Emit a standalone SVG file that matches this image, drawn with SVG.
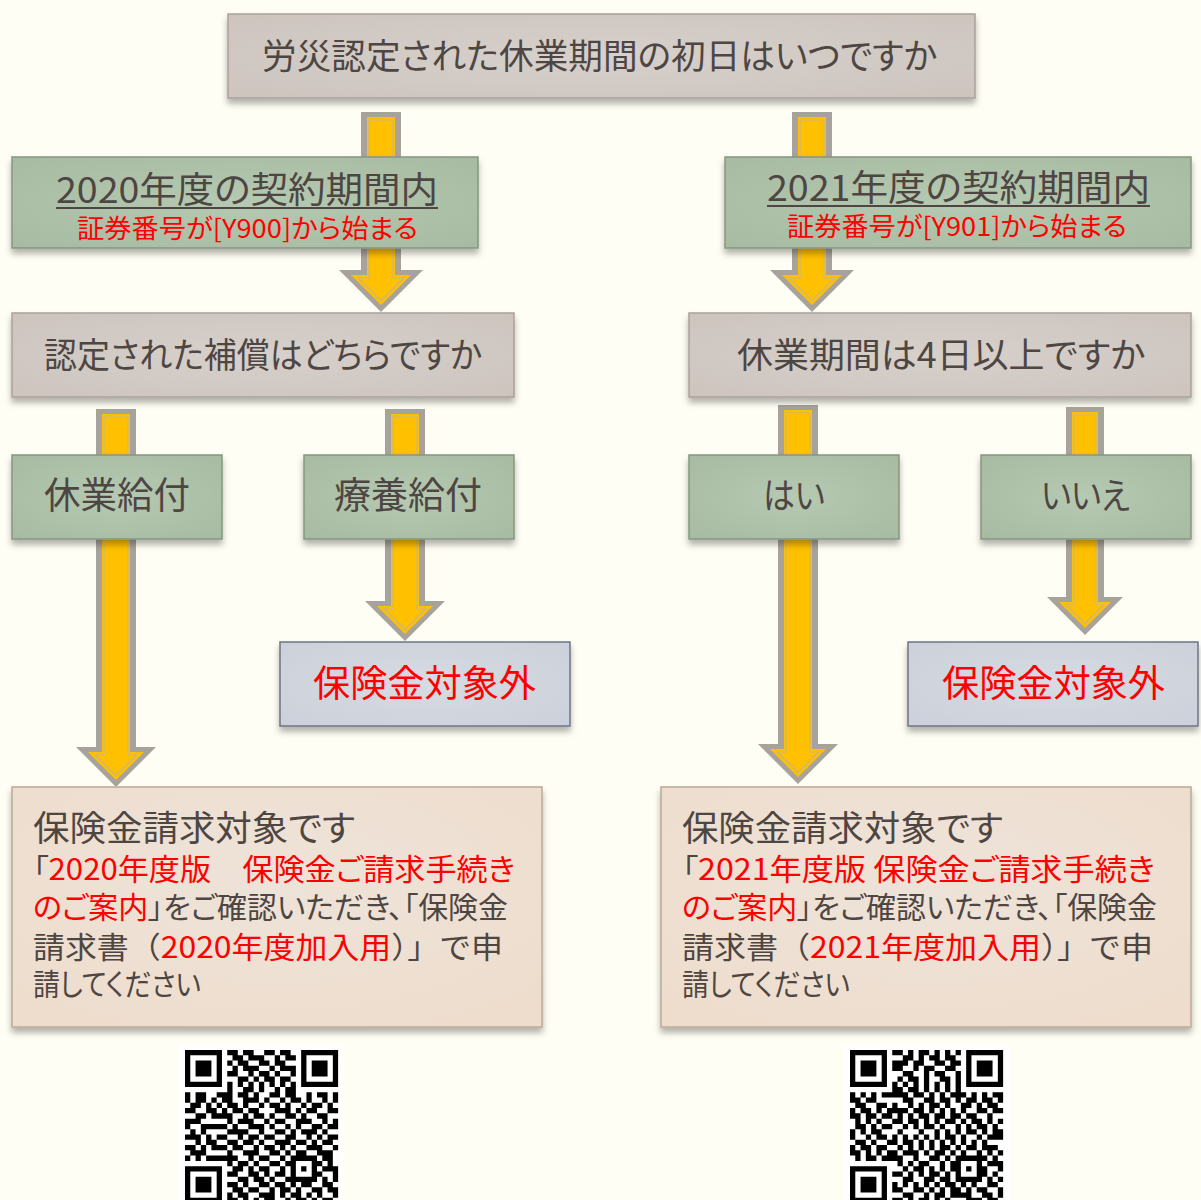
<svg xmlns="http://www.w3.org/2000/svg" xmlns:xlink="http://www.w3.org/1999/xlink" width="1201" height="1200" viewBox="0 0 1201 1200">
<defs>
<style>
.t{font-family:"Noto Sans CJK JP","Noto Sans CJK SC",sans-serif;fill:#4E4642;font-feature-settings:"palt";}
.np{font-feature-settings:normal;}
.r{fill:#FF0000;}
.gray{fill:url(#gGray);stroke:#A9A19B;stroke-width:1.5;filter:url(#sh);}
.green{fill:url(#gGreen);stroke:#859683;stroke-width:1.5;filter:url(#sh);}
.blue{fill:url(#gBlue);stroke:#6C7487;stroke-width:1.5;filter:url(#sh);}
.peach{fill:url(#gPeach);stroke:#BBAA94;stroke-width:1.5;filter:url(#sh);}
.ao{fill:#A8A29C;}
.ay{fill:#FFC000;}
.al{fill:none;stroke:#C9B68A;stroke-width:1.2;}
</style>
<filter id="sh" x="-5%" y="-10%" width="110%" height="130%">
<feDropShadow dx="0" dy="5" stdDeviation="3" flood-color="#000" flood-opacity="0.3"/>
</filter>
<radialGradient id="gGray" cx=".5" cy=".5" r=".7"><stop offset="0" stop-color="#D7D0CB"/><stop offset="1" stop-color="#CDC4BE"/></radialGradient>
<radialGradient id="gGreen" cx=".5" cy=".5" r=".7"><stop offset="0" stop-color="#B6C9B2"/><stop offset="1" stop-color="#A6BBA2"/></radialGradient>
<radialGradient id="gBlue" cx=".5" cy=".5" r=".7"><stop offset="0" stop-color="#D7DBE2"/><stop offset="1" stop-color="#CBD0DA"/></radialGradient>
<radialGradient id="gPeach" cx=".5" cy=".4" r=".7"><stop offset="0" stop-color="#EEE3D9"/><stop offset="1" stop-color="#EEDDCD"/></radialGradient>
<path id="qrp" fill="none" stroke="#000" stroke-width="1" d="M0 .5h7m1 0h2m1 0h2m2 0h2m1 0h2m2 0h7M0 1.5h1m5 0h1m2 0h2m1 0h3m2 0h1m1 0h2m1 0h1m5 0h1M0 2.5h1m1 0h3m1 0h1m1 0h1m1 0h2m2 0h2m1 0h2m3 0h1m1 0h3m1 0h1M0 3.5h1m1 0h3m1 0h1m2 0h1m1 0h3m2 0h1m1 0h3m1 0h1m1 0h3m1 0h1M0 4.5h1m1 0h3m1 0h1m1 0h2m2 0h1m1 0h2m1 0h1m2 0h1m1 0h1m1 0h3m1 0h1M0 5.5h1m5 0h1m3 0h2m1 0h1m1 0h2m1 0h2m2 0h1m5 0h1M0 6.5h7m1 0h1m1 0h1m1 0h1m1 0h1m1 0h1m1 0h1m1 0h1m1 0h7M8 7.5h1m2 0h2m1 0h1m2 0h1m1 0h2M0 8.5h1m1 0h2m2 0h3m1 0h2m1 0h1m2 0h2m1 0h2m2 0h1m1 0h2m1 0h1M0 9.5h1m1 0h2m1 0h1m1 0h2m2 0h3m1 0h1m2 0h1m1 0h2m1 0h1m2 0h1m1 0h1M1 10.5h2m1 0h1m1 0h1m1 0h2m1 0h1m2 0h1m1 0h2m1 0h1m2 0h1m1 0h2m1 0h1M0 11.5h2m2 0h2m1 0h1m1 0h2m1 0h2m3 0h3m1 0h1m1 0h2m2 0h2M2 12.5h2m1 0h4m2 0h1m1 0h2m1 0h1m2 0h2m1 0h1m2 0h2M0 13.5h3m5 0h1m1 0h3m2 0h1m1 0h2m2 0h3m2 0h1m1 0h1M0 14.5h1m2 0h5m1 0h1m2 0h3m1 0h1m2 0h1m1 0h1m2 0h2m1 0h2M1 15.5h1m1 0h1m4 0h4m2 0h1m2 0h2m1 0h1m1 0h3m1 0h1M0 16.5h3m1 0h1m1 0h2m2 0h1m1 0h2m1 0h2m2 0h2m2 0h1m1 0h1m1 0h2M2 17.5h1m1 0h2m2 0h2m1 0h2m1 0h1m2 0h3m1 0h2m1 0h1m1 0h2M0 18.5h2m1 0h1m1 0h3m1 0h2m2 0h1m1 0h2m1 0h1m1 0h1m2 0h3m2 0h1M1 19.5h3m4 0h1m2 0h3m2 0h2m1 0h1m1 0h2m2 0h3M0 20.5h1m1 0h1m1 0h6m2 0h1m1 0h2m2 0h1m1 0h5m1 0h2M8 21.5h1m1 0h2m1 0h1m2 0h2m1 0h2m3 0h2m1 0h1M0 22.5h7m2 0h2m1 0h1m1 0h2m2 0h1m1 0h1m1 0h1m1 0h1m1 0h3M0 23.5h1m5 0h1m1 0h2m2 0h2m1 0h1m1 0h2m1 0h1m3 0h2m2 0h1M0 24.5h1m1 0h3m1 0h1m3 0h2m1 0h2m1 0h1m2 0h6m1 0h1m1 0h1M0 25.5h1m1 0h3m1 0h1m1 0h2m1 0h1m2 0h2m1 0h2m1 0h1m1 0h2m2 0h2M0 26.5h1m1 0h3m1 0h1m2 0h2m1 0h2m2 0h1m1 0h2m1 0h1m2 0h2m1 0h2M0 27.5h1m5 0h1m1 0h1m1 0h2m2 0h3m1 0h1m1 0h2m1 0h1m1 0h1m2 0h1M0 28.5h7m1 0h2m1 0h1m1 0h1m1 0h2m2 0h1m1 0h2m1 0h1m1 0h2"/>
</defs>
<rect width="1201" height="1200" fill="#FEFEF4"/>

<g id="connectors">
<g id="arrow-title-2020"><polygon class="ao" points="361,112 401,112 401,270 423,270 381,312 339,270 361,270"/><polygon class="ay" points="367,117 395,117 395,275 411,275 381,305 351,275 367,275"/><polygon class="al" points="369,120 393,120 393,278 403.7,278 381,300.7 358.3,278 369,278"/></g>
<g id="arrow-title-2021"><polygon class="ao" points="792,112 832,112 832,270 854,270 812,312 770,270 792,270"/><polygon class="ay" points="798,117 826,117 826,275 842,275 812,305 782,275 798,275"/><polygon class="al" points="800,120 824,120 824,278 834.7,278 812,300.7 789.3,278 800,278"/></g>
<g id="arrow-kyugyo"><polygon class="ao" points="96,409 136,409 136,747 156,747 116,787 76,747 96,747"/><polygon class="ay" points="102,414 130,414 130,752 144,752 116,780 88,752 102,752"/><polygon class="al" points="104,417 128,417 128,755 136.7,755 116,775.7 95.3,755 104,755"/></g>
<g id="arrow-ryoyo"><polygon class="ao" points="385,409 425,409 425,601 445,601 405,641 365,601 385,601"/><polygon class="ay" points="391,414 419,414 419,606 433,606 405,634 377,606 391,606"/><polygon class="al" points="393,417 417,417 417,609 425.7,609 405,629.7 384.3,609 393,609"/></g>
<g id="arrow-hai"><polygon class="ao" points="778,405 818,405 818,744 838,744 798,784 758,744 778,744"/><polygon class="ay" points="784,410 812,410 812,749 826,749 798,777 770,749 784,749"/><polygon class="al" points="786,413 810,413 810,752 818.7,752 798,772.7 777.3,752 786,752"/></g>
<g id="arrow-iie"><polygon class="ao" points="1066,407 1104,407 1104,597 1123,597 1085,635 1047,597 1066,597"/><polygon class="ay" points="1072,412 1098,412 1098,602 1111,602 1085,628 1059,602 1072,602"/><polygon class="al" points="1074,415 1096,415 1096,605 1103.7,605 1085,623.7 1066.3,605 1074,605"/></g>
</g>

<g id="n-title"><rect class="gray" x="228" y="14" width="747" height="84"/>
<text class="t" x="262" y="69" font-size="35" textLength="675" lengthAdjust="spacingAndGlyphs">労災認定された休業期間の初日はいつですか</text></g>

<g id="n-2020"><rect class="green" x="12" y="157" width="466" height="91"/>
<text class="t" x="56" y="203" font-size="36" textLength="382" lengthAdjust="spacingAndGlyphs">2020年度の契約期間内</text>
<line x1="56" y1="208" x2="438" y2="208" stroke="#4E4642" stroke-width="1.8"/>
<text class="t r" x="77" y="238" font-size="26" textLength="341" lengthAdjust="spacingAndGlyphs">証券番号が[Y900]から始まる</text></g>

<g id="n-2021"><rect class="green" x="725" y="157" width="466" height="91"/>
<text class="t" x="767" y="201" font-size="36" textLength="383" lengthAdjust="spacingAndGlyphs">2021年度の契約期間内</text>
<line x1="767" y1="206" x2="1150" y2="206" stroke="#4E4642" stroke-width="1.8"/>
<text class="t r" x="787" y="236" font-size="26" textLength="340" lengthAdjust="spacingAndGlyphs">証券番号が[Y901]から始まる</text></g>

<g id="n-q-benefit"><rect class="gray" x="12" y="313" width="502" height="84"/>
<text class="t" x="44" y="368" font-size="35" textLength="438" lengthAdjust="spacingAndGlyphs">認定された補償はどちらですか</text></g>

<g id="n-q-days"><rect class="gray" x="689" y="313" width="502" height="84"/>
<text class="t" x="737" y="368" font-size="35" textLength="408" lengthAdjust="spacingAndGlyphs">休業期間は4日以上ですか</text></g>

<g id="n-kyugyo"><rect class="green" x="12" y="455" width="210" height="84"/>
<text class="t" x="44" y="509" font-size="37" textLength="146" lengthAdjust="spacingAndGlyphs">休業給付</text></g>

<g id="n-ryoyo"><rect class="green" x="304" y="455" width="210" height="84"/>
<text class="t" x="334" y="509" font-size="37" textLength="148" lengthAdjust="spacingAndGlyphs">療養給付</text></g>

<g id="n-hai"><rect class="green" x="689" y="455" width="210" height="84"/>
<text class="t" x="763" y="509" font-size="36" textLength="62" lengthAdjust="spacingAndGlyphs">はい</text></g>

<g id="n-iie"><rect class="green" x="981" y="455" width="210" height="84"/>
<text class="t" x="1041" y="509" font-size="36" textLength="89" lengthAdjust="spacingAndGlyphs">いいえ</text></g>

<g id="n-out-ryoyo"><rect class="blue" x="280" y="642" width="290" height="84"/>
<text class="t r" x="313" y="697" font-size="37" textLength="223" lengthAdjust="spacingAndGlyphs">保険金対象外</text></g>

<g id="n-out-iie"><rect class="blue" x="908" y="642" width="290" height="84"/>
<text class="t r" x="942" y="697" font-size="37" textLength="223" lengthAdjust="spacingAndGlyphs">保険金対象外</text></g>

<g id="n-claim-2020"><rect class="peach" x="12" y="787" width="530" height="240"/>
<text class="t" x="33" y="841" font-size="35" textLength="322" lengthAdjust="spacingAndGlyphs">保険金請求対象です</text>
<text class="t" x="33" y="880" font-size="30" textLength="482" lengthAdjust="spacingAndGlyphs">「<tspan class="r">2020年度版　保険金ご請求手続き</tspan></text>
<text class="t" x="33" y="918" font-size="30" textLength="475" lengthAdjust="spacingAndGlyphs"><tspan class="r">のご案内</tspan>」をご確認いただき、「保険金</text>
<text class="t np" x="33" y="958" font-size="30" textLength="470" lengthAdjust="spacingAndGlyphs">請求書（<tspan class="r">2020年度加入用</tspan>）」で申</text>
<text class="t" x="33" y="995" font-size="30" textLength="168" lengthAdjust="spacingAndGlyphs">請してください</text></g>

<g id="n-claim-2021"><rect class="peach" x="661" y="787" width="530" height="240"/>
<text class="t" x="682" y="841" font-size="35" textLength="321" lengthAdjust="spacingAndGlyphs">保険金請求対象です</text>
<text class="t" x="682" y="880" font-size="30" textLength="473" lengthAdjust="spacingAndGlyphs">「<tspan class="r">2021年度版 保険金ご請求手続き</tspan></text>
<text class="t" x="682" y="918" font-size="30" textLength="475" lengthAdjust="spacingAndGlyphs"><tspan class="r">のご案内</tspan>」をご確認いただき、「保険金</text>
<text class="t np" x="682" y="958" font-size="30" textLength="471" lengthAdjust="spacingAndGlyphs">請求書（<tspan class="r">2021年度加入用</tspan>）」で申</text>
<text class="t" x="682" y="995" font-size="30" textLength="168" lengthAdjust="spacingAndGlyphs">請してください</text></g>

<g id="qr-2020"><rect x="179" y="1044" width="165" height="156" fill="#FFFFFF"/>
<use xlink:href="#qrp" href="#qrp" transform="translate(185,1050) scale(5.28)"/></g>
<g id="qr-2021"><rect x="844" y="1044" width="165" height="156" fill="#FFFFFF"/>
<use xlink:href="#qrp" href="#qrp" transform="translate(850,1050) scale(5.28) matrix(0 1 1 0 0 0)"/></g>
</svg>
